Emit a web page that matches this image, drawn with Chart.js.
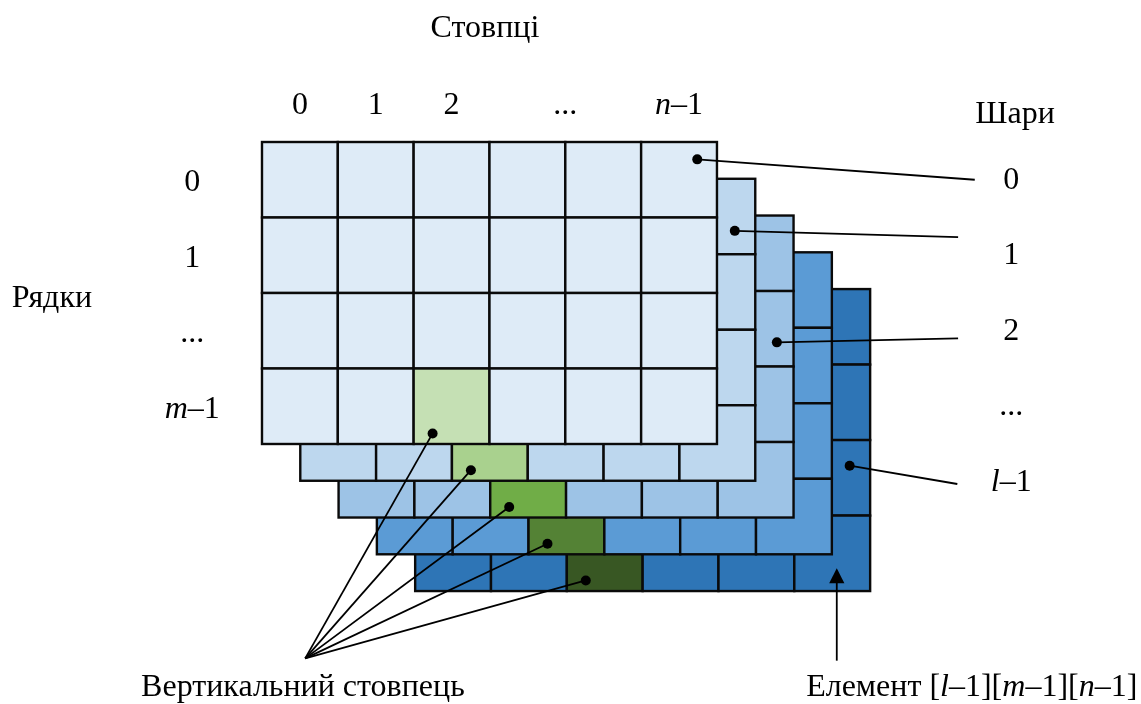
<!DOCTYPE html>
<html>
<head>
<meta charset="utf-8">
<script src="https://cdn.jsdelivr.net/npm/chart.js@4.4.1/dist/chart.umd.min.js"></script>
<style>
  html, body { margin: 0; padding: 0; background: #fff; }
  #wrap { width: 1141px; height: 704px; position: relative; }
</style>
</head>
<body>
<div id="wrap"><canvas id="c"></canvas></div>
<script>
// array shape and labels
const columnCount = 6;
const rowCount = 4;
const layerCount = 5;
const columnLabels = ['0', '1', '2', '...', 'n–1'];
const rowLabels = ['0', '1', '...', 'm–1'];
const layerLabels = ['0', '1', '2', '...', 'l–1'];
const pickedColumn = 2;   // the highlighted "vertical column"
const pickedRow = 3;
const titleCols = 'Стовпці';
const titleRows = 'Рядки';
const titleLayers = 'Шари';
const captionColumn = 'Вертикальний стовпець';
const captionElement = 'Елемент [l–1][m–1][n–1]';

// layout, in cell units (1 = one cell)
const shiftX = 0.505;
const shiftY = 0.487;
const columnLabelSlots = [0, 1, 2, 3.5, 5];
const layerLeaders = [
  { layer: 0, from: [5.74, 0.23], to: [9.40, 0.50] },
  { layer: 1, from: [5.73, 0.69], to: [9.18, 1.26] },
  { layer: 2, from: [5.78, 1.68], to: [9.18, 2.60] },
  { layer: 4, from: [5.73, 2.34], to: [9.17, 4.53] }
];
const columnDot = [2.25, 3.86];
const columnMeet = [0.57, 6.84];

// styles
const layerFills = ['#DEEBF7', '#BDD7EE', '#9DC3E6', '#5B9BD5', '#2E75B6'];
const pickedFills = ['#C5E0B4', '#A9D18E', '#70AD47', '#548235', '#385723'];
const FONT = 'Liberation Serif, "Times New Roman", serif';
const FS = 32;

const datasets = [];
layerLeaders.forEach(d => {
  datasets.push({
    data: [{ x: d.from[0] + d.layer * shiftX, y: d.from[1] + d.layer * shiftY }, { x: d.to[0], y: d.to[1] }],
    showLine: true, borderColor: '#000', borderWidth: 1.8,
    pointRadius: [5, 0], pointBackgroundColor: '#000', pointBorderWidth: 0
  });
});
for (let k = 0; k < layerCount; k++) {
  datasets.push({
    data: [{ x: columnDot[0] + k * shiftX, y: columnDot[1] + k * shiftY }, { x: columnMeet[0], y: columnMeet[1] }],
    showLine: true, borderColor: '#000', borderWidth: 1.8,
    pointRadius: [5, 0], pointBackgroundColor: '#000', pointBorderWidth: 0
  });
}
// arrow to the last element
const arrowX = 5.56 + (layerCount - 1) * shiftX;
datasets.push({
  data: [{ x: arrowX, y: 6.87 }, { x: arrowX, y: 5.84 }],
  showLine: true, borderColor: '#000', borderWidth: 1.8, pointRadius: 0
});

const cellsPlugin = {
  id: 'cells',
  beforeDatasetsDraw(chart) {
    const { ctx, scales: { x, y } } = chart;
    ctx.save();
    ctx.lineWidth = 2.4;
    ctx.strokeStyle = '#0a0a0a';
    for (let k = layerCount - 1; k >= 0; k--) {
      const sx = k * shiftX, sy = k * shiftY;
      for (let r = 0; r < rowCount; r++) {
        for (let c = 0; c < columnCount; c++) {
          const x0 = x.getPixelForValue(c + sx), x1 = x.getPixelForValue(c + 1 + sx);
          const y0 = y.getPixelForValue(r + sy), y1 = y.getPixelForValue(r + 1 + sy);
          ctx.fillStyle = (r === pickedRow && c === pickedColumn) ? pickedFills[k] : layerFills[k];
          ctx.fillRect(x0, y0, x1 - x0, y1 - y0);
          ctx.strokeRect(x0, y0, x1 - x0, y1 - y0);
        }
      }
    }
    ctx.restore();
  }
};

// text with italic l, m, n
function drawText(ctx, str, px, py) {
  const parts = str.split(/([lmn])/).filter(p => p !== '');
  const fonts = parts.map(p => (/^[lmn]$/.test(p) ? 'italic ' : '') + FS + 'px ' + FONT);
  let w = 0;
  parts.forEach((p, i) => { ctx.font = fonts[i]; w += ctx.measureText(p).width; });
  let cx = px - w / 2;
  parts.forEach((p, i) => {
    ctx.font = fonts[i];
    ctx.fillText(p, cx, py + 3);
    cx += ctx.measureText(p).width;
  });
}

const textPlugin = {
  id: 'texts',
  afterDatasetsDraw(chart) {
    const { ctx, scales: { x, y } } = chart;
    ctx.save();
    ctx.fillStyle = '#000';
    ctx.textBaseline = 'middle';
    ctx.textAlign = 'left';
    const at = (str, vx, vy) => drawText(ctx, str, x.getPixelForValue(vx), y.getPixelForValue(vy));
    columnLabels.forEach((t, i) => at(t, columnLabelSlots[i] + 0.5, -0.52));
    rowLabels.forEach((t, i) => at(t, -0.92, i + 0.5));
    layerLabels.forEach((t, i) => at(t, 9.88, i + 0.5 - 0.03));
    at(titleCols, 2.94, -1.54);
    at(titleLayers, 9.93, -0.40);
    at(titleRows, -2.77, 2.03);
    at(captionColumn, 0.54, 7.19);
    at(captionElement, 9.36, 7.19);

    // arrow head
    const tx = x.getPixelForValue(arrowX);
    const ty = y.getPixelForValue(5.646);
    const by = y.getPixelForValue(5.845);
    ctx.beginPath();
    ctx.moveTo(tx, ty);
    ctx.lineTo(tx + 7.6, by);
    ctx.lineTo(tx - 7.6, by);
    ctx.closePath();
    ctx.fill();
    ctx.restore();
  }
};

new Chart(document.getElementById('c'), {
  type: 'scatter',
  data: { datasets },
  options: {
    responsive: true,
    maintainAspectRatio: false,
    animation: false,
    events: [],
    layout: { padding: 0, autoPadding: false },
    plugins: { legend: { display: false }, tooltip: { enabled: false } },
    scales: {
      x: { type: 'linear', display: false, min: -3.455, max: 11.592 },
      y: { type: 'linear', display: false, reverse: true, min: -1.881, max: 7.444 }
    }
  },
  plugins: [cellsPlugin, textPlugin]
});
</script>
</body>
</html>
